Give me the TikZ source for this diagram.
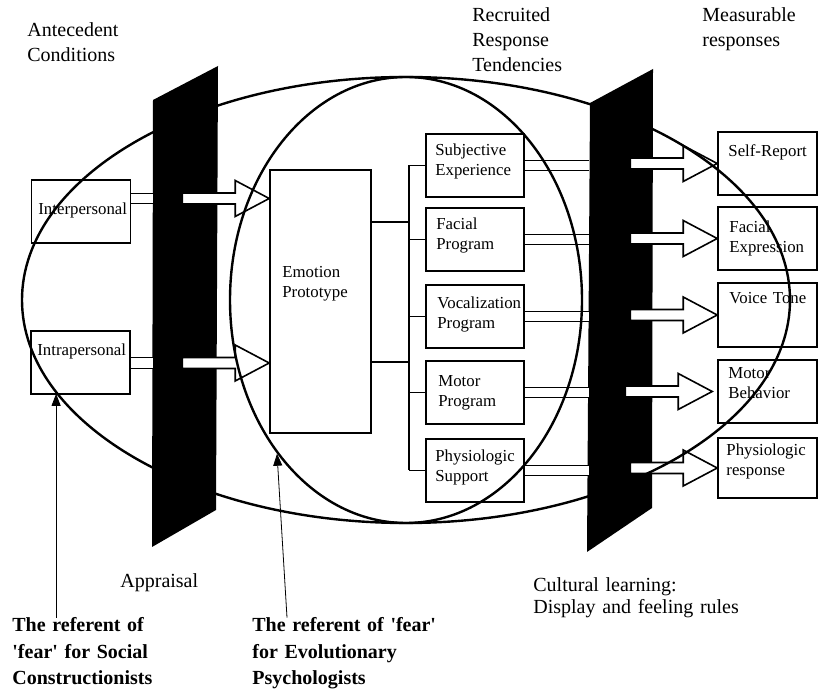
\documentclass[tikz,border=0pt]{standalone}
\usepackage{fontspec}
\setmainfont{Liberation Serif}
\usepackage{tikz}
\usetikzlibrary{shapes.geometric}
\usetikzlibrary{arrows.meta}

\begin{document}
\begin{tikzpicture}[x=0.5pt,y=-0.5pt,
		box/.style={draw=cline,line width=0.8pt,inner sep=0pt,minimum width=49pt,minimum height=31.5pt},
		lbl/.style={anchor=base west,inner sep=0pt,align=left,text width=52pt,font=\fontsize{8.4}{9.6}\selectfont},
		toplbl/.style={anchor=base west,inner sep=0pt,align=left,text width=140pt,font=\fontsize{10}{12.5}\selectfont},
		refer/.style={toplbl,font=\bfseries\fontsize{10}{13.25}\selectfont},
		oval/.style={draw=cline,ellipse,line width=1.2pt,inner sep=0pt},
		wire/.style={draw=cline,line width=0.8pt},
		twin/.style={draw=cline,double=carrow,double distance=4.6pt,line width=0.5pt},
		fat/.style={draw=cline,fill=carrow,line width=0.8pt,line join=miter},
		ptr/.style={draw=cline,line width=0.4pt,-{Triangle[length=6pt,width=4.5pt]}}]
			\definecolor{cslab}{rgb}{0.0,0.0,0.0}
			\definecolor{cline}{rgb}{0.0,0.0,0.0}
			\definecolor{carrow}{rgb}{1.0,1.0,1.0}
			%
			\useasboundingbox (0,0) rectangle (819,694);
			%
			\fill[cslab] (153,100) -- (218,66) -- (216,510) -- (152,547) -- cycle;
			\fill[cslab] (590,103) -- (653,69) -- (652,508) -- (587,552) -- cycle;
			\coordinate (apIn) at (153,198.5);
			\coordinate (apIn2) at (153,363);
			\coordinate (culL) at (589,300);
			\coordinate (busT) at (409,165.5);
			\coordinate (busB) at (409,470.5);
			\coordinate (busA) at (409,222);
			\coordinate (busC) at (409,362);
			%
			\node[box,minimum width=49.5pt] (inter) at (81,211.5) {};
			\node[box,minimum width=49.5pt] (intra) at (80.5,362.5) {};
			\node[box,minimum width=50.5pt,minimum height=131.5pt] (emo) at (320.5,301.5) {};
			\node[box] (subj) at (475,165.5) {};
			\node[box] (facp) at (475,239.5) {};
			\node[box] (voc) at (475,316.5) {};
			\node[box] (motp) at (475,392.5) {};
			\node[box] (phys) at (475,470.5) {};
			\node[box,minimum width=49.5pt] (self) at (767.5,163.5) {};
			\node[box,minimum width=49.5pt] (face) at (767.5,238.5) {};
			\node[box,minimum width=49.5pt,minimum height=32pt] (voice) at (767.5,315) {};
			\node[box,minimum width=49.5pt] (motb) at (767.5,391.5) {};
			\node[box,minimum width=49.5pt,minimum height=30pt] (physr) at (767.5,468) {};
			%
			\node[lbl] (interT) at (38,215) {Interpersonal};
			\node[lbl] (intraT) at (37,356) {Intrapersonal};
			\node[lbl] (emoT) at (282,278) {Emotion\\Prototype};
			\node[lbl] (subjT) at (435,156) {Subjective\\Experience};
			\node[lbl] (facpT) at (436,230) {Facial\\Program};
			\node[lbl] (vocT) at (437,309) {Vocalization\\Program};
			\node[lbl] (motpT) at (438,387) {Motor\\Program};
			\node[lbl] (physT) at (435,462) {Physiologic\\Support};
			\node[lbl] (selfT) at (728,157) {Self-Report};
			\node[lbl] (faceT) at (729,233) {Facial\\Expression};
			\node[lbl] (voiceT) at (729,304) {Voice Tone};
			\node[lbl] (motbT) at (728,379) {Motor\\Behavior};
			\node[lbl] (physrT) at (726,456) {Physiologic\\response};
			%
			\draw[wire] (busT) -- (busB);
			\draw[wire] (emo.east |- busA) -- (busA);
			\draw[wire] (emo.east |- busC) -- (busC);
			\draw[wire] (subj.west -| busT) -- (subj.west);
			\draw[wire] (facp.west -| busT) -- (facp.west);
			\draw[wire] (voc.west -| busT) -- (voc.west);
			\draw[wire] (motp.west -| busT) -- (motp.west);
			\draw[wire] (phys.west -| busT) -- (phys.west);
			%
			\draw[twin] (inter.east |- apIn) -- (apIn);
			\draw[twin] (intra.east |- apIn2) -- (apIn2);
			\draw[twin] (subj.east) -- (subj.east -| culL);
			\draw[twin] (facp.east) -- (facp.east -| culL);
			\draw[twin] (voc.east) -- (voc.east -| culL);
			\draw[twin] (motp.east) -- (motp.east -| culL);
			\draw[twin] (phys.east) -- (phys.east -| culL);
			%
			\draw[fat] (emo.west |- apIn) -- ++(-34,-18) -- ++(0,12.5) -- ++(-53,0) -- ++(0,11) -- ++(53,0) -- ++(0,12.5) -- cycle;
			\draw[fat] (emo.west |- apIn2) -- ++(-34,-18) -- ++(0,12.5) -- ++(-53,0) -- ++(0,11) -- ++(53,0) -- ++(0,12.5) -- cycle;
			\draw[fat] (self.west) -- ++(-34,-18) -- ++(0,12.5) -- ++(-53,0) -- ++(0,11) -- ++(53,0) -- ++(0,12.5) -- cycle;
			\draw[fat] (face.west) -- ++(-34,-18) -- ++(0,12.5) -- ++(-53,0) -- ++(0,11) -- ++(53,0) -- ++(0,12.5) -- cycle;
			\draw[fat] (voice.west) -- ++(-34,-18) -- ++(0,12.5) -- ++(-53,0) -- ++(0,11) -- ++(53,0) -- ++(0,12.5) -- cycle;
			\draw[fat] ([xshift=-2.5pt]motb.west) -- ++(-34,-18) -- ++(0,12.5) -- ++(-53,0) -- ++(0,11) -- ++(53,0) -- ++(0,12.5) -- cycle;
			\draw[fat] (physr.west) -- ++(-34,-18) -- ++(0,12.5) -- ++(-53,0) -- ++(0,11) -- ++(53,0) -- ++(0,12.5) -- cycle;
			%
			\node[oval,minimum width=384pt,minimum height=223pt] (socE) at (406,300) {};
			\node[oval,minimum width=176pt,minimum height=223pt] (evoE) at (406,300) {};
			%
			\node[toplbl] (antT) at (27,37) {Antecedent\\Conditions};
			\node[toplbl] (recT) at (472,22) {Recruited\\Response\\Tendencies};
			\node[toplbl] (meaT) at (702,22) {Measurable\\responses};
			\node[toplbl] (appT) at (120,588) {Appraisal};
			\node[toplbl,font=\fontsize{10}{10.5}\selectfont] (culT) at (533,592) {Cultural learning:\\Display and feeling rules};
			\node[refer] (socT) at (12,632) {The referent of\\\textquotesingle fear\textquotesingle{} for Social\\Constructionists};
			\node[refer] (evoT) at (252,632) {The referent of \textquotesingle fear\textquotesingle\\for Evolutionary\\Psychologists};
			%
			\draw[ptr] (socE.195.5 |- socT.north) -- (socE.195.5);
			\draw[ptr] ([xshift=17.5pt]evoT.north west) -- (evoE.230);
			%
		\end{tikzpicture}
\end{document}
